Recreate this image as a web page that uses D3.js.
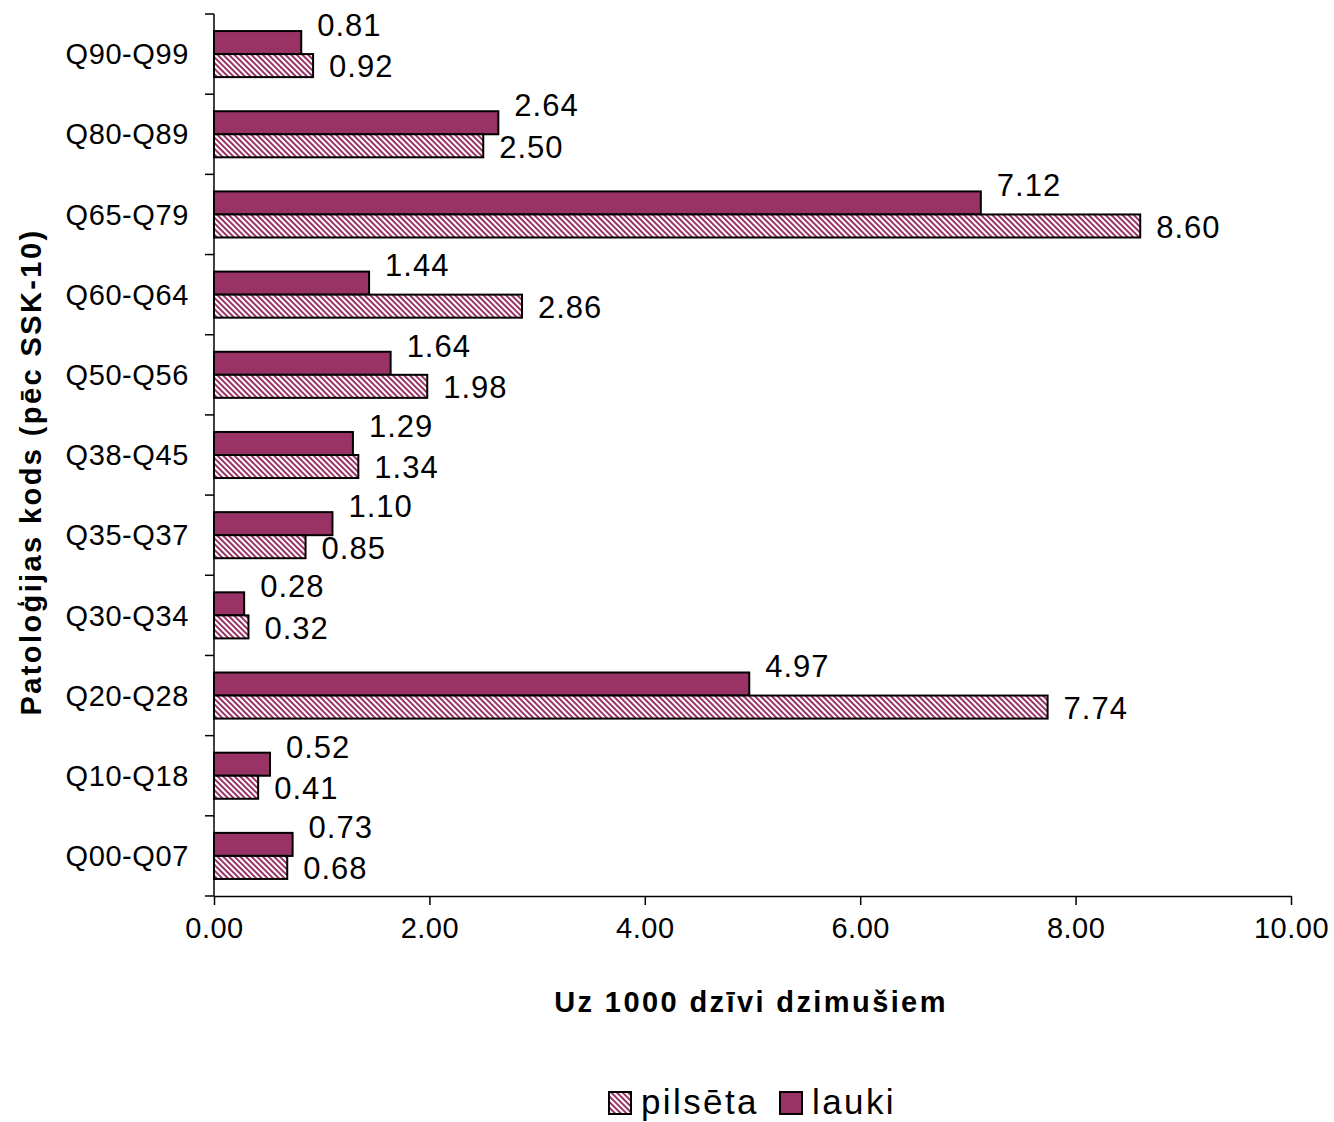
<!DOCTYPE html>
<html>
<head>
<meta charset="utf-8">
<script src="https://cdn.jsdelivr.net/npm/d3@7"></script>
<style>
  html, body { margin: 0; padding: 0; background: #fff; }
  svg { display: block; font-family: "Liberation Sans", Arial, sans-serif; }
</style>
</head>
<body>
<script>
// Pathology code groups (ICD-10), top to bottom
const categories = ["Q90-Q99", "Q80-Q89", "Q65-Q79", "Q60-Q64", "Q50-Q56", "Q38-Q45",
                    "Q35-Q37", "Q30-Q34", "Q20-Q28", "Q10-Q18", "Q00-Q07"];
// Rate per 1000 live births
const lauki    = [0.81, 2.64, 7.12, 1.44, 1.64, 1.29, 1.10, 0.28, 4.97, 0.52, 0.73];
const pilseta  = [0.92, 2.50, 8.60, 2.86, 1.98, 1.34, 0.85, 0.32, 7.74, 0.41, 0.68];
const seriesNames = ["lauki", "pilsēta"];
const xTicks = [0, 2, 4, 6, 8, 10];
const legendOrder = ["pilsēta", "lauki"];

const W = 1334, H = 1122;
const plot = { left: 214, right: 1291, top: 14, bottom: 896 };
const plum = "#993366";

const svg = d3.select("body").append("svg").attr("width", W).attr("height", H);

// Diagonal hatch used for the "pilsēta" series
const defs = svg.append("defs");
const pat = defs.append("pattern")
  .attr("id", "hatch")
  .attr("patternUnits", "userSpaceOnUse")
  .attr("width", 4).attr("height", 4)
  .attr("patternTransform", "rotate(-45)");
pat.append("rect").attr("width", 4).attr("height", 4).attr("fill", "#fff");
pat.append("rect").attr("width", 2).attr("height", 4).attr("fill", plum);

const x = d3.scaleLinear().domain([0, 10]).range([plot.left, plot.right]);
const y = d3.scaleBand().domain(categories).range([plot.top, plot.bottom]).padding(0);
const ySub = d3.scaleBand().domain(seriesNames).range([0, y.bandwidth()])
  .paddingInner(0).paddingOuter(0.74);

const rows = categories.map((c, i) => ({ cat: c, lauki: lauki[i], "pilsēta": pilseta[i] }));

// Bars
const groups = svg.append("g").selectAll("g").data(rows).join("g")
  .attr("transform", d => `translate(0,${y(d.cat)})`);

groups.selectAll("rect").data(d => seriesNames.map(s => ({ s, v: d[s] }))).join("rect")
  .attr("x", x(0))
  .attr("y", d => ySub(d.s))
  .attr("width", d => x(d.v) - x(0))
  .attr("height", ySub.bandwidth())
  .attr("fill", d => d.s === "lauki" ? plum : "url(#hatch)")
  .attr("stroke", "#000")
  .attr("stroke-width", 2);

// Value labels
groups.selectAll("text").data(d => seriesNames.map(s => ({ s, v: d[s] }))).join("text")
  .attr("x", d => x(d.v) + 16)
  .attr("y", d => d.s === "lauki" ? ySub(d.s) - 6 : ySub(d.s) + ySub.bandwidth() / 2 + 1)
  .attr("dy", "0.35em")
  .attr("font-size", 31)
  .attr("letter-spacing", 1)
  .attr("fill", "#000")
  .text(d => d.v.toFixed(2));

// Value axis
const xAxis = d3.axisBottom(x).tickValues(xTicks).tickFormat(d3.format(".2f"))
  .tickSize(9).tickPadding(12).tickSizeOuter(0);
const gx = svg.append("g").attr("transform", `translate(0,${plot.bottom})`).call(xAxis);
gx.select(".domain").attr("stroke", "#000").attr("stroke-width", 1.5);
gx.selectAll(".tick line").attr("stroke", "#000").attr("stroke-width", 1.5);
gx.selectAll(".tick text").attr("font-size", 29).attr("letter-spacing", 0.5).attr("fill", "#000")
  .attr("font-family", "Liberation Sans, Arial, sans-serif");

// Category axis: ticks at band boundaries, labels at band centres
const gy = svg.append("g");
gy.append("line").attr("x1", plot.left).attr("x2", plot.left)
  .attr("y1", plot.top).attr("y2", plot.bottom)
  .attr("stroke", "#000").attr("stroke-width", 1.5);
const bounds = categories.map(c => y(c)).concat([plot.bottom]);
gy.selectAll("line.tk").data(bounds).join("line").attr("class", "tk")
  .attr("x1", plot.left - 9).attr("x2", plot.left)
  .attr("y1", d => d).attr("y2", d => d)
  .attr("stroke", "#000").attr("stroke-width", 1.5);
gy.selectAll("text").data(categories).join("text")
  .attr("x", 189)
  .attr("y", d => y(d) + y.bandwidth() / 2)
  .attr("dy", "0.35em")
  .attr("text-anchor", "end")
  .attr("font-size", 29)
  .attr("letter-spacing", 0.6)
  .text(d => d);

// Axis titles
svg.append("text")
  .attr("x", 751).attr("y", 1002)
  .attr("dy", "0.35em")
  .attr("text-anchor", "middle").attr("font-weight", "bold").attr("font-size", 29)
  .attr("letter-spacing", 2.4)
  .text("Uz 1000 dzīvi dzimušiem");

svg.append("text")
  .attr("transform", "translate(31,472) rotate(-90)")
  .attr("dy", "0.35em")
  .attr("text-anchor", "middle").attr("font-weight", "bold").attr("font-size", 29)
  .attr("letter-spacing", 2.4)
  .text("Patoloģijas kods (pēc SSK-10)");

// Legend
const legend = svg.append("g").attr("transform", "translate(609,1103)");
const legX = [0, 171];
legendOrder.forEach((name, i) => {
  const g = legend.append("g").attr("transform", `translate(${legX[i]},0)`);
  g.append("rect").attr("x", 0).attr("y", -11).attr("width", 22).attr("height", 22)
    .attr("fill", name === "lauki" ? plum : "url(#hatch)")
    .attr("stroke", "#000").attr("stroke-width", 2);
  g.append("text").attr("x", 32).attr("y", 11).attr("font-size", 35)
    .attr("letter-spacing", 2.4).text(name);
});
</script>
</body>
</html>
